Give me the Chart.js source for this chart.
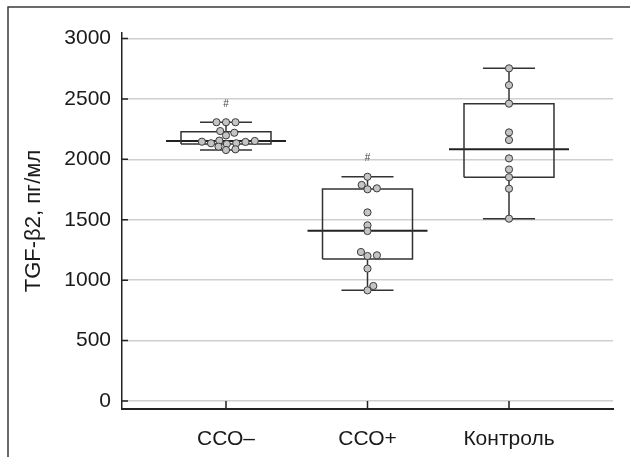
<!DOCTYPE html>
<html><head><meta charset="utf-8">
<script src="https://cdn.jsdelivr.net/npm/chart.js@4/dist/chart.umd.min.js"></script>
<style>html,body{margin:0;padding:0;background:#fff}#wrap{width:630px;height:457px;position:relative}</style>
</head><body><div id="wrap"><canvas id="c" width="630" height="457"></canvas></div>
<script>
// ---- data ----
const categories = ['ССО–', 'ССО+', 'Контроль'];
const valuesCCOminus = [2307, 2307, 2307, 2234, 2220, 2198, 2155, 2152, 2146, 2144, 2133, 2133, 2127, 2105, 2083, 2077];
const valuesCCOplus = [1856, 1788, 1760, 1752, 1561, 1454, 1407, 1233, 1206, 1200, 1096, 952, 916];
const valuesControl = [2753, 2614, 2461, 2223, 2160, 2008, 1916, 1852, 1757, 1509];
const whiskerLow = [2077, 916, 1509];
const quartile1 = [2127, 1175, 1852];
const medians = [2152, 1409, 2083];
const quartile3 = [2229, 1755, 2461];
const whiskerHigh = [2307, 1856, 2753];
const significance = ['#', '#', ''];
const yTicks = [0, 500, 1000, 1500, 2000, 2500, 3000];
const yTitle = 'TGF-β2, пг/мл';

// ---- style ----
const BOX_HALF = 0.318, MED_HALF = 0.424, CAP_HALF = 0.184;
const LINE = '#333333', FONT = "'Liberation Sans', Arial, sans-serif";
const groups = [valuesCCOminus, valuesCCOplus, valuesControl];

const lineDs = (pts, w, color) => ({
  type: 'scatter', data: pts, showLine: true, pointRadius: 0, pointHoverRadius: 0,
  borderColor: color, borderWidth: w, fill: false, tension: 0, order: 2,
  borderJoinStyle: 'miter', borderCapStyle: 'butt'
});

const datasets = [];
const pointsDs = {
  type: 'scatter', order: 0,
  data: [],
  pointRadius: 3.6, pointBackgroundColor: '#c4c4c4', pointBorderColor: '#3a3a3a', pointBorderWidth: 1,
  showLine: false
};
groups.forEach((vals, i) => vals.forEach(v => pointsDs.data.push({x: i, y: v, g: i})));
datasets.push(pointsDs);
categories.forEach((c, i) => {
  datasets.push(lineDs([{x:i,y:quartile3[i]},{x:i,y:whiskerHigh[i]}], 1.5, LINE));
  datasets.push(lineDs([{x:i,y:whiskerLow[i]},{x:i,y:quartile1[i]}], 1.5, LINE));
  datasets.push(lineDs([{x:i-CAP_HALF,y:whiskerHigh[i]},{x:i+CAP_HALF,y:whiskerHigh[i]}], 1.5, LINE));
  datasets.push(lineDs([{x:i-CAP_HALF,y:whiskerLow[i]},{x:i+CAP_HALF,y:whiskerLow[i]}], 1.5, LINE));
  datasets.push(lineDs([{x:i-BOX_HALF,y:quartile1[i]},{x:i-BOX_HALF,y:quartile3[i]},{x:i+BOX_HALF,y:quartile3[i]},{x:i+BOX_HALF,y:quartile1[i]},{x:i-BOX_HALF,y:quartile1[i]}], 1.5, LINE));
  datasets.push(lineDs([{x:i-MED_HALF,y:medians[i]},{x:i+MED_HALF,y:medians[i]}], 2, '#222222'));
});

const decor = {
  id: 'decor',
  beforeDraw(chart) {
    const ctx = chart.ctx;
    ctx.save();
    ctx.fillStyle = '#fff'; ctx.fillRect(0, 0, chart.width, chart.height);
    ctx.strokeStyle = '#3a3a3a'; ctx.lineWidth = 1.5;
    ctx.beginPath(); ctx.moveTo(8, chart.height); ctx.lineTo(8, 7); ctx.lineTo(chart.width, 7); ctx.stroke();
    ctx.restore();
  },
  beforeDatasetsDraw(chart) {
    const ctx = chart.ctx, xs = chart.scales.x, ys = chart.scales.y, a = chart.chartArea;
    ctx.save();
    ctx.strokeStyle = '#222'; ctx.lineWidth = 1.5;
    ctx.beginPath();
    yTicks.forEach(v => { const y = ys.getPixelForValue(v); ctx.moveTo(a.left, y); ctx.lineTo(a.left + 6, y); });
    categories.forEach((c, i) => { const x = xs.getPixelForValue(i); ctx.moveTo(x, a.bottom); ctx.lineTo(x, a.bottom - 8); });
    ctx.stroke();
    ctx.restore();
  },
  afterDatasetsDraw(chart) {
    const ctx = chart.ctx, xs = chart.scales.x, ys = chart.scales.y;
    ctx.save();
    ctx.fillStyle = '#444'; ctx.font = '10px ' + FONT; ctx.textAlign = 'center'; ctx.textBaseline = 'middle';
    significance.forEach((s, i) => { if (s) ctx.fillText(s, xs.getPixelForValue(i), ys.getPixelForValue(whiskerHigh[i]) - 18); });
    ctx.restore();
  }
};

const chart = new Chart(document.getElementById('c'), {
  type: 'scatter',
  data: { datasets },
  options: {
    responsive: false, animation: false, devicePixelRatio: 1,
    layout: { padding: { top: 33, right: 17, left: 0, bottom: 0 } },
    plugins: { legend: { display: false }, tooltip: { enabled: false } },
    scales: {
      x: {
        type: 'linear', min: -0.735, max: 2.735,
        afterBuildTicks: s => { s.ticks = categories.map((c, i) => ({ value: i })); },
        afterFit: s => { s.height = 48; },
        grid: { display: false, drawTicks: false },
        border: { display: true, color: '#222', width: 2 },
        ticks: { callback: v => categories[v], font: { size: 21, family: FONT }, color: '#1a1a1a', padding: 18, maxRotation: 0, autoSkip: false }
      },
      y: {
        type: 'linear', min: -66, max: 3045.5,
        afterBuildTicks: s => { s.ticks = yTicks.map(v => ({ value: v })); },
        afterFit: s => { s.width = 122; },
        grid: { color: '#cfcfcf', lineWidth: 1.5, drawTicks: false },
        border: { display: true, color: '#222', width: 1.5 },
        ticks: { callback: v => String(v), font: { size: 21, family: FONT }, color: '#1a1a1a', padding: 11, autoSkip: false },
        title: { display: true, text: yTitle, font: { size: 22, family: FONT }, color: '#1a1a1a', padding: { top: 21, bottom: 0 } }
      }
    }
  },
  plugins: [decor]
});

// beeswarm layout of the points in pixel space
(function swarm() {
  const xs = chart.scales.x, ys = chart.scales.y;
  const pxPerX = xs.getPixelForValue(1) - xs.getPixelForValue(0);
  const XS = 9.5, YS = 5.5;
  groups.forEach((vals, g) => {
    const pts = pointsDs.data.filter(p => p.g === g).sort((a, b) => a.y - b.y);
    const placed = [];
    pts.forEach(p => {
      const py = ys.getPixelForValue(p.y);
      const near = placed.filter(q => Math.abs(q.py - py) < YS);
      const cands = [0];
      near.forEach(q => { const dx = XS * Math.sqrt(1 - Math.pow((q.py - py) / YS, 2)); cands.push(q.px + dx, q.px - dx); });
      const ok = cands.filter(c => near.every(q => Math.pow((c - q.px) / XS, 2) + Math.pow((q.py - py) / YS, 2) >= 1 - 1e-6));
      ok.sort((a, b) => Math.abs(a) - Math.abs(b) || b - a);
      const px = ok[0];
      placed.push({ px, py });
      p.x = g + px / pxPerX;
    });
  });
  chart.update('none');
})();
</script></body></html>
